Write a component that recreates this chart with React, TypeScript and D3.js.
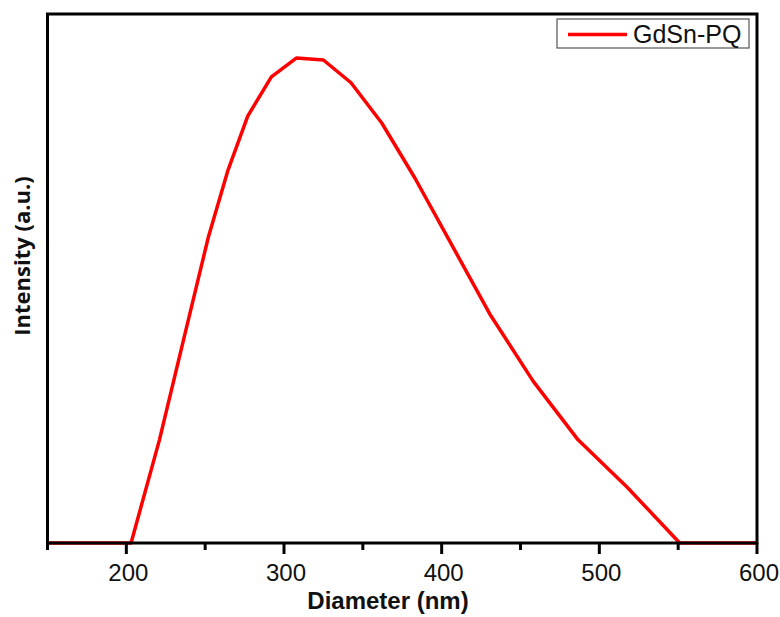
import React, { useEffect, useRef } from 'react';
import * as d3 from 'd3';

// diameter (nm) and intensity (a.u., 0-100)
const diameters = [150, 203, 221, 237, 252, 264.5, 277, 292, 308, 325, 342.5, 362, 383, 406.5, 430.5, 458, 486.5, 517.5, 551, 600];
const intensity = [0, 0, 19.5, 39.3, 57.8, 70.5, 80.7, 88.1, 91.7, 91.3, 87.0, 79.4, 69.0, 56.3, 43.3, 30.6, 19.5, 10.6, 0, 0];
const majorTicks = [200, 300, 400, 500, 600];
const minorTicks = [150, 250, 350, 450, 550];
const seriesName = 'GdSn-PQ';

const App = () => {
  const svgRef = useRef<SVGSVGElement | null>(null);

  useEffect(() => {
    const width = 780;
    const height = 617;
    const margin = { top: 14, right: 23, bottom: 74, left: 47.5 };

    const svg = d3.select(svgRef.current)
      .attr('width', width)
      .attr('height', height)
      .style('display', 'block')
      .style('background', '#fff');
    svg.selectAll('*').remove();

    const xScale = d3.scaleLinear()
      .domain([150, 600])
      .range([margin.left, width - margin.right]);

    const yScale = d3.scaleLinear()
      .domain([0, 100])
      .range([height - margin.bottom, margin.top]);

    const y0 = yScale(0);

    // data line
    const points = diameters.map((d, i) => [d, intensity[i]] as [number, number]);
    const line = d3.line<[number, number]>()
      .x(d => xScale(d[0]))
      .y(d => yScale(d[1]));

    svg.append('path')
      .datum(points)
      .attr('fill', 'none')
      .attr('stroke', '#ff0000')
      .attr('stroke-width', 3.5)
      .attr('stroke-linejoin', 'round')
      .attr('d', line);

    // frame
    svg.append('rect')
      .attr('x', xScale(150))
      .attr('y', yScale(100))
      .attr('width', xScale(600) - xScale(150))
      .attr('height', y0 - yScale(100))
      .attr('fill', 'none')
      .attr('stroke', '#000')
      .attr('stroke-width', 3);

    // ticks
    svg.selectAll('.major')
      .data(majorTicks)
      .enter().append('line')
      .attr('x1', d => xScale(d))
      .attr('x2', d => xScale(d))
      .attr('y1', y0)
      .attr('y2', y0 + 11)
      .attr('stroke', '#000')
      .attr('stroke-width', 3);

    svg.selectAll('.minor')
      .data(minorTicks)
      .enter().append('line')
      .attr('x1', d => xScale(d))
      .attr('x2', d => xScale(d))
      .attr('y1', y0)
      .attr('y2', y0 + 7)
      .attr('stroke', '#000')
      .attr('stroke-width', 3);

    svg.selectAll('.tick-label')
      .data(majorTicks)
      .enter().append('text')
      .attr('x', d => xScale(d) + 2)
      .attr('y', y0 + 38)
      .attr('text-anchor', 'middle')
      .attr('font-family', '"Liberation Sans", Arial, sans-serif')
      .attr('font-size', 24)
      .attr('fill', '#111')
      .text(d => d);

    // axis titles
    svg.append('text')
      .attr('x', 388)
      .attr('y', 609)
      .attr('text-anchor', 'middle')
      .attr('font-family', '"Liberation Sans", Arial, sans-serif')
      .attr('font-weight', 'bold')
      .attr('font-size', 24)
      .attr('fill', '#111')
      .text('Diameter (nm)');

    svg.append('text')
      .attr('transform', `translate(30,256) rotate(-90)`)
      .attr('text-anchor', 'middle')
      .attr('font-family', '"Open Sans", sans-serif')
      .attr('font-weight', 'bold')
      .attr('font-size', 22)
      .attr('fill', '#111')
      .text('Intensity (a.u.)');

    // legend
    const legend = svg.append('g');
    legend.append('rect')
      .attr('x', 557)
      .attr('y', 19)
      .attr('width', 192)
      .attr('height', 29)
      .attr('fill', '#fff')
      .attr('stroke', '#555')
      .attr('stroke-width', 1.2);
    legend.append('line')
      .attr('x1', 568)
      .attr('x2', 627)
      .attr('y1', 34.5)
      .attr('y2', 34.5)
      .attr('stroke', '#ff0000')
      .attr('stroke-width', 3.5);
    legend.append('text')
      .attr('x', 633)
      .attr('y', 43)
      .attr('font-family', '"Liberation Sans", Arial, sans-serif')
      .attr('font-size', 25)
      .attr('fill', '#111')
      .text(seriesName);
  }, []);

  return (
    <svg ref={svgRef} style={{ position: 'absolute', left: 0, top: 0 }}></svg>
  );
};

export default App;
